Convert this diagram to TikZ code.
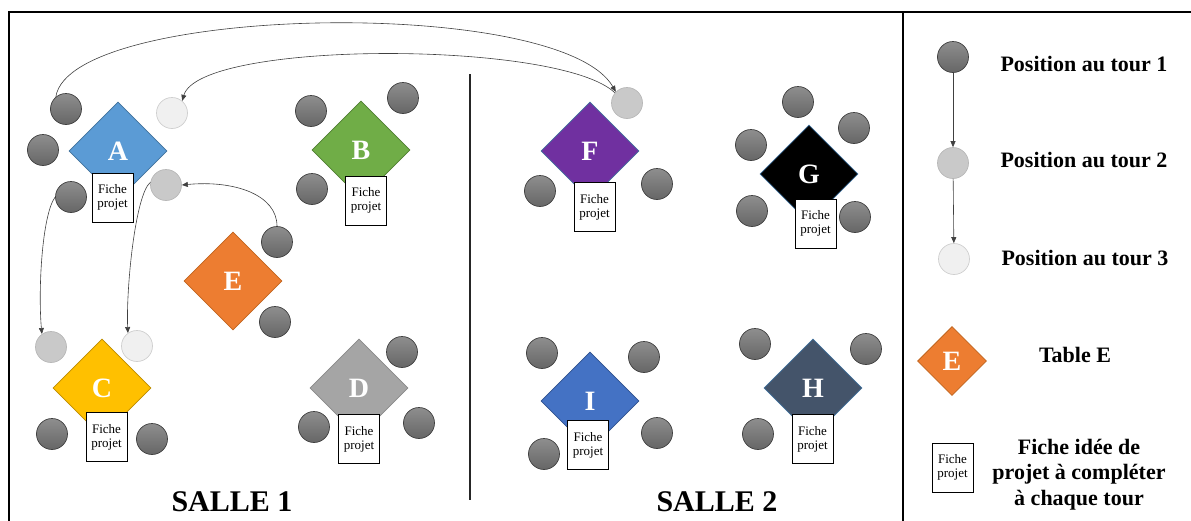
\documentclass[tikz,border=0pt]{standalone}
\usepackage{fontspec}
\setmainfont{Liberation Serif}
\usetikzlibrary{shapes.geometric,arrows.meta}
\definecolor{cAfill}{HTML}{5B9BD5}\definecolor{cAline}{HTML}{41719C}
\definecolor{cBfill}{HTML}{70AD47}\definecolor{cBline}{HTML}{507E32}
\definecolor{cCfill}{HTML}{FFC000}\definecolor{cCline}{HTML}{BC8C00}
\definecolor{cDfill}{HTML}{A5A5A5}\definecolor{cDline}{HTML}{8A8A8A}
\definecolor{cEfill}{HTML}{ED7D31}\definecolor{cEline}{HTML}{C0651F}
\definecolor{cFfill}{HTML}{7030A0}\definecolor{cFline}{HTML}{41719C}
\definecolor{cGfill}{HTML}{000000}\definecolor{cGline}{HTML}{41719C}
\definecolor{cHfill}{HTML}{44546A}\definecolor{cHline}{HTML}{41719C}
\definecolor{cIfill}{HTML}{4472C4}\definecolor{cIline}{HTML}{2F528F}
\definecolor{pOneTop}{HTML}{8E8E8E}\definecolor{pOneBot}{HTML}{666666}\definecolor{pOneLine}{HTML}{404040}
\definecolor{pTwoFill}{HTML}{C9C9C9}\definecolor{pTwoLine}{HTML}{B8B8B8}
\definecolor{pThreeFill}{HTML}{F0F0F0}\definecolor{pThreeLine}{HTML}{CFCFCF}
\definecolor{connc}{HTML}{404040}
\begin{document}
\begin{tikzpicture}[x=1pt,y=-1pt,
  tbl/.style={diamond,minimum width=98pt,minimum height=98pt,inner sep=0pt,line width=0.8pt,text=white,font=\bfseries\fontsize{28}{30}\selectfont},
  fiche/.style={draw=black,fill=white,line width=0.8pt,minimum width=41pt,minimum height=49pt,inner sep=0pt,align=center,font=\fontsize{13}{14}\selectfont},
  pone/.style={circle,minimum size=31pt,inner sep=0pt,draw=pOneLine,line width=0.7pt,top color=pOneTop,bottom color=pOneBot},
  ptwo/.style={circle,minimum size=31pt,inner sep=0pt,draw=pTwoLine,line width=0.7pt,fill=pTwoFill},
  pthree/.style={circle,minimum size=31pt,inner sep=0pt,draw=pThreeLine,line width=0.7pt,fill=pThreeFill},
  conn/.style={draw=connc,line width=0.6pt,-{Triangle[length=6pt,width=5pt]}},
  salle/.style={font=\bfseries\fontsize{30}{32}\selectfont,anchor=base},
  legtxt/.style={font=\bfseries\fontsize{22}{25.5}\selectfont},
  frameline/.style={draw=black,line width=1.3pt}
]
\useasboundingbox (0,0) rectangle (1191,520);
% frame
\coordinate (fTL) at (9,12);
\coordinate (fBL) at (9,521);
\coordinate (fTR) at (1192,12);
\coordinate (sepT) at (903,12);
\coordinate (sepB) at (903,521);
\coordinate (midT) at (470,74);
\coordinate (midB) at (470,500);
\draw[frameline] (fBL) -- (fTL) -- (fTR);
\draw[frameline] (sepT) -- (sepB);
\draw[draw=black!85,line width=2pt] (midT) -- (midB);

% tables
\node[tbl,fill=cAfill,draw=cAline] (A) at (118,151) {A};
\node[tbl,fill=cBfill,draw=cBline] (B) at (361,150) {B};
\node[tbl,fill=cCfill,draw=cCline] (C) at (102,388) {C};
\node[tbl,fill=cDfill,draw=cDline] (D) at (359,388) {D};
\node[tbl,fill=cEfill,draw=cEline] (E) at (233,281) {E};
\node[tbl,fill=cFfill,draw=cFline] (F) at (590,151) {F};
\node[tbl,fill=cGfill,draw=cGline] (G) at (809,174) {G};
\node[tbl,fill=cIfill,draw=cIline] (I) at (590,401) {I};
\node[tbl,fill=cHfill,draw=cHline] (H) at (813,388) {H};

% fiches
\node[fiche] (fA) at (112.5,197.5) {Fiche\\projet};
\node[fiche] (fB) at (366,200.5) {Fiche\\projet};
\node[fiche] (fC) at (106.5,437) {Fiche\\projet};
\node[fiche] (fD) at (359,439) {Fiche\\projet};
\node[fiche] (fF) at (594.5,207) {Fiche\\projet};
\node[fiche] (fG) at (815.5,223.5) {Fiche\\projet};
\node[fiche] (fI) at (588,445) {Fiche\\projet};
\node[fiche] (fH) at (812.5,439) {Fiche\\projet};

% people around A
\node[pone] (cA1) at (66,109) {};
\node[pone] (cA2) at (43,150) {};
\node[pone] (cA3) at (71,197) {};
\node[pthree] (cA4) at (172,113) {};
\node[ptwo] (cA5) at (166,185) {};
% B
\node[pone] (cB1) at (311,111) {};
\node[pone] (cB2) at (403,98) {};
\node[pone] (cB3) at (312,189) {};
% E
\node[pone] (cE1) at (277,242) {};
\node[pone] (cE2) at (275,322) {};
% C
\node[ptwo] (cC1) at (51,347) {};
\node[pthree] (cC2) at (137,346) {};
\node[pone] (cC3) at (52,434) {};
\node[pone] (cC4) at (152,439) {};
% D
\node[pone] (cD1) at (402,352) {};
\node[pone] (cD2) at (314,427) {};
\node[pone] (cD3) at (419,423) {};
% F
\node[ptwo] (cF1) at (627,103) {};
\node[pone] (cF2) at (540,191) {};
\node[pone] (cF3) at (657,184) {};
% G
\node[pone] (cG1) at (798,102) {};
\node[pone] (cG2) at (854,128) {};
\node[pone] (cG3) at (751,145) {};
\node[pone] (cG4) at (752,211) {};
\node[pone] (cG5) at (855,217) {};
% I
\node[pone] (cI1) at (542,353) {};
\node[pone] (cI2) at (644,357) {};
\node[pone] (cI3) at (657,433) {};
\node[pone] (cI4) at (544,454) {};
% H
\node[pone] (cH1) at (755,344) {};
\node[pone] (cH2) at (866,349) {};
\node[pone] (cH3) at (758,434) {};

% moves
\draw[conn] (cA1.130) .. controls (70,5) and (560,-5) .. (cF1.135);
\draw[conn] (cF1.140) .. controls (560,40) and (200,40) .. (cA4.50);
\draw[conn] (cE1.90) .. controls (277,195) and (235,180) .. (cA5.0);
\draw[conn] (cA3.180) .. controls (42,215) and (38,290) .. (cC1.125);
\draw[conn] (cA5.170) .. controls (135,195) and (126,290) .. (cC2.125);

% room labels
\node[salle] (s1) at (232,511) {SALLE 1};
\node[salle] (s2) at (717,511) {SALLE 2};

% legend
\node[pone] (L1) at (953,57) {};
\node[ptwo] (L2) at (953,163) {};
\node[pthree] (L3) at (954,259) {};
\draw[conn] (L1) -- (L2);
\draw[conn] (L2) -- (L3);
\node[legtxt,anchor=base west] (t1) at (997,71) {Position au tour 1};
\node[legtxt,anchor=base west] (t2) at (997,167) {Position au tour 2};
\node[legtxt,anchor=base west] (t3) at (998,265) {Position au tour 3};
\node[tbl,fill=cEfill,draw=cEline,minimum width=69pt,minimum height=69pt] (LE) at (952,361) {E};
\node[legtxt,anchor=base] (tE) at (1075,362) {Table E};
\node[fiche] (LF) at (952.5,467.5) {Fiche\\projet};
\node[legtxt,align=center] (tF) at (1079,474.5) {Fiche idée de\\projet à compléter\\à chaque tour};
\end{tikzpicture}
\end{document}
